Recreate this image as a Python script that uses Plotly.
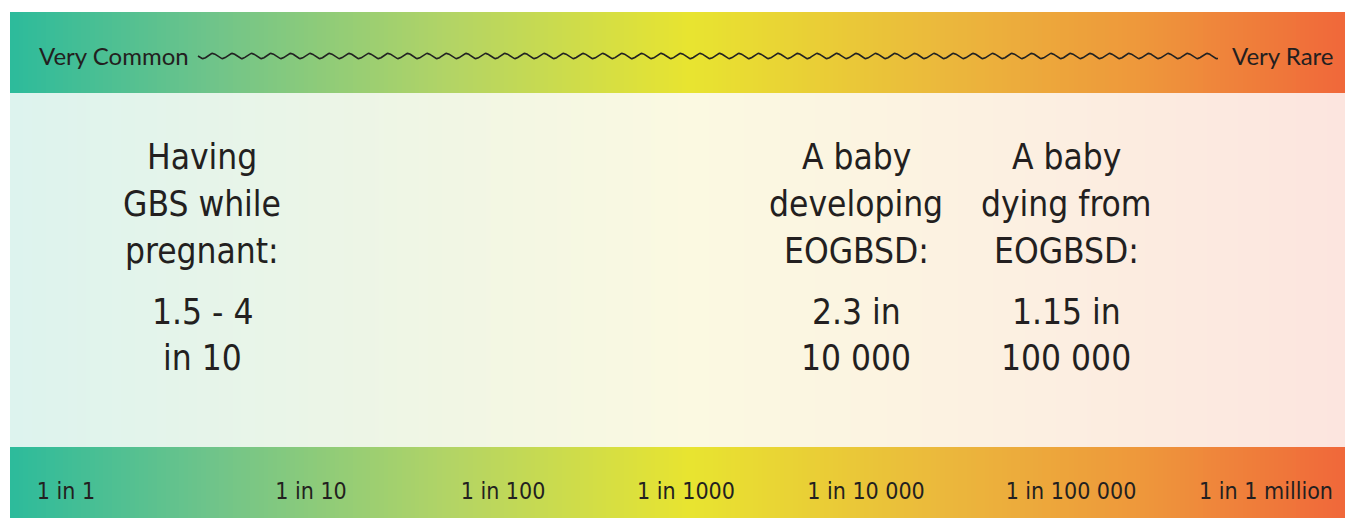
import numpy as np
import plotly.graph_objects as go

# ---- data ----
scale_labels = ["1 in 1", "1 in 10", "1 in 100", "1 in 1000",
                "1 in 10 000", "1 in 100 000", "1 in 1 million"]
end_labels = ["Very Common", "Very Rare"]
fact_headings = [["Having", "GBS while", "pregnant:"],
                 ["A baby", "developing", "EOGBSD:"],
                 ["A baby", "dying from", "EOGBSD:"]]
fact_values = [["1.5 - 4", "in 10"], ["2.3 in", "10 000"], ["1.15 in", "100 000"]]

# ---- layout positions (pixel-like coordinates) ----
W, H = 1345, 518
X0, X1 = 10, 1345
TOP_Y = (12, 93)
MID_Y = (93, 447)
BOT_Y = (447, 518)
scale_x = [66, 311, 503, 686, 866, 1071, 1266]
fact_x = [202, 856, 1066]
heading_y = [157, 204, 251]
value_y = [312, 358]

strong_scale = [[0.0, "#2dbb9b"], [0.15, "#6fc48a"], [0.33, "#b3d465"],
                [0.51, "#e8e430"], [0.70, "#ebb83c"], [0.85, "#ee973b"],
                [1.0, "#f0683a"]]
light_scale = [[0.0, "#ddf3ee"], [0.33, "#f1f6e4"], [0.51, "#fbf9e1"],
               [0.75, "#fcf0e1"], [1.0, "#fce5df"]]

N = 300
xe = np.linspace(X0, X1, N + 1)
zrow = [list(np.linspace(0, 1, N))]

fig = go.Figure()
for (ya, yb), cs in [(TOP_Y, strong_scale), (MID_Y, light_scale), (BOT_Y, strong_scale)]:
    fig.add_trace(go.Heatmap(x=xe, y=[ya, yb], z=zrow, colorscale=cs,
                             zmin=0, zmax=1, showscale=False, hoverinfo="skip"))

# wavy line between end labels
wx = np.linspace(198, 1218, 1500)
wy = 56 + 2.6 * np.sin((wx - 198) / 19.5 * 2 * np.pi)
fig.add_trace(go.Scatter(x=wx, y=wy, mode="lines",
                         line=dict(color="#222222", width=1.6), hoverinfo="skip"))

label_font = dict(family="Lato, Noto Sans, sans-serif", size=24, color="#231f20")
fig.add_annotation(x=37, y=55, text=end_labels[0], showarrow=False,
                   xanchor="left", yanchor="middle", font=label_font)
fig.add_annotation(x=1336, y=55, text=end_labels[1], showarrow=False,
                   xanchor="right", yanchor="middle", font=label_font)

cond = "DejaVu Sans Condensed, Liberation Sans Narrow, Roboto, sans-serif"
fig.add_trace(go.Scatter(x=scale_x, y=[493] * len(scale_x), mode="text",
                         text=scale_labels, textposition="middle center",
                         textfont=dict(family=cond, size=23, color="#231f20"),
                         hoverinfo="skip"))

big = dict(family=cond, size=35, color="#231f20")
for fx, hd, vl in zip(fact_x, fact_headings, fact_values):
    for line, ly in zip(hd, heading_y):
        fig.add_annotation(x=fx, y=ly, text=line, showarrow=False,
                           xanchor="center", yanchor="middle", font=big)
    for line, ly in zip(vl, value_y):
        fig.add_annotation(x=fx, y=ly, text=line, showarrow=False,
                           xanchor="center", yanchor="middle", font=big)

fig.update_layout(width=W, height=H, margin=dict(l=0, r=0, t=0, b=0),
                  paper_bgcolor="white", plot_bgcolor="white", showlegend=False,
                  xaxis=dict(range=[0, W], visible=False, fixedrange=True),
                  yaxis=dict(range=[H, 0], visible=False, fixedrange=True))

fig.write_html("out.html", config={"displayModeBar": False},
               post_script="document.body.style.margin='0';document.body.style.overflow='hidden';")
